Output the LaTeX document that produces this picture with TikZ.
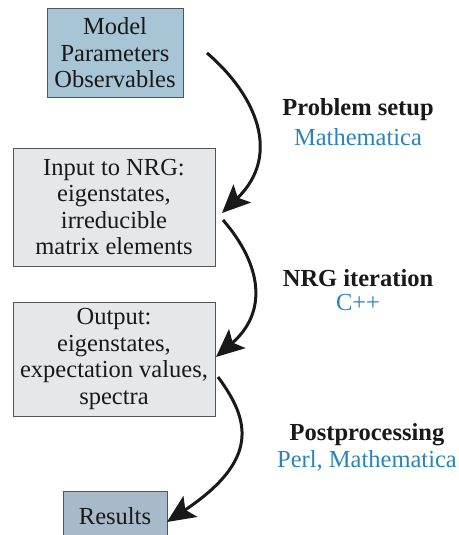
\documentclass[tikz,border=0pt]{standalone}
\usepackage{fontspec}
\setmainfont{Liberation Serif}
\usetikzlibrary{arrows.meta}
\definecolor{paramblue}{HTML}{A7C5D5}
\definecolor{resultblue}{HTML}{A8B9C9}
\definecolor{stagegray}{HTML}{E6E7E8}
\definecolor{toolblue}{HTML}{2A84BA}
\definecolor{edgegray}{HTML}{555555}
\tikzset{
  flowbox/.style={draw=edgegray, line width=1pt, align=center, inner sep=0pt,
    font=\fontsize{24.5}{26.5}\selectfont, text=black!90},
  flowarrow/.style={line width=3pt, black!90,
    -{Stealth[length=28pt, width=25pt, inset=6pt]}},
  stagename/.style={font=\fontsize{24.5}{26.5}\selectfont\bfseries, text=black!90},
  toolname/.style={font=\fontsize{24.5}{26.5}\selectfont, text=toolblue},
}
\begin{document}
\begin{tikzpicture}[x=1pt, y=-1pt]
\useasboundingbox (0,0) rectangle (458,535);
% boxes of the workflow
\node[flowbox, fill=paramblue, minimum width=136pt, minimum height=88pt] (model) at (115,53)
  {Model\\Parameters\\Observables};
\node[flowbox, fill=stagegray, minimum width=202pt, minimum height=118pt] (input) at (114,207)
  {Input to NRG:\\eigenstates,\\irreducible\\matrix elements};
\node[flowbox, fill=stagegray, minimum width=202pt, minimum height=114pt] (output) at (114,359)
  {Output:\\eigenstates,\\expectation values,\\spectra};
\node[flowbox, fill=resultblue, minimum width=104pt, minimum height=50pt] (results) at (115,516)
  {Results};
% end points of the connectors
\coordinate (a1s) at (207,53);
\coordinate (a1e) at (222,213);
\coordinate (a2s) at (223,220);
\coordinate (a2e) at (216,357);
\coordinate (a3s) at (218,377);
\coordinate (a3e) at (167,522);
\draw[flowarrow] (a1s) .. controls (256,95) and (282,155) .. (a1e);
\draw[flowarrow] (a2s) .. controls (262,265) and (268,312) .. (a2e);
\draw[flowarrow] (a3s) .. controls (250,420) and (260,460) .. (a3e);
% stage labels
\node[stagename] (s1) at (358,110) {Problem setup};
\node[toolname] (t1) at (358,137) {Mathematica};
\node[stagename] (s2) at (358,278) {NRG iteration};
\node[toolname] (t2) at (358,303) {C++};
\node[stagename] (s3) at (367,435) {Postprocessing};
\node[toolname] (t3) at (367,461) {Perl, Mathematica};
\end{tikzpicture}
\end{document}
